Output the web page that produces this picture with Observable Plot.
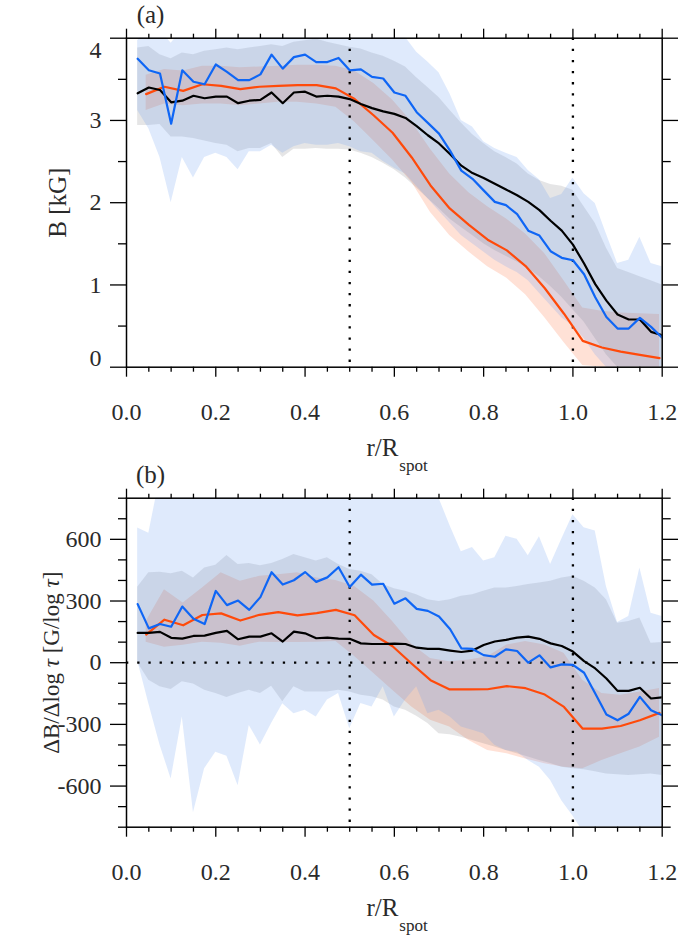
<!DOCTYPE html>
<html><head><meta charset="utf-8">
<script src="https://cdn.jsdelivr.net/npm/d3@7"></script>
<script src="https://cdn.jsdelivr.net/npm/@observablehq/plot@0.6"></script>
<style>
body{margin:0;background:#fff;}
#chart{width:678px;}
#chart svg{display:block;}
#chart svg text{font-family:"Liberation Serif","Times New Roman",serif !important;}
</style></head><body><div id="chart"></div>
<script>
// ---------- data ----------
const rGrid = [0.025,0.05,0.075,0.1,0.125,0.15,0.175,0.2,0.225,0.25,0.275,0.3,0.325,0.35,0.375,0.4,0.425,0.45,0.475,0.5,0.525,0.55,0.575,0.6,0.625,0.65,0.675,0.7,0.725,0.75,0.775,0.8,0.825,0.85,0.875,0.9,0.925,0.95,0.975,1.0,1.025,1.05,1.075,1.1,1.125,1.15,1.175,1.2];
const rOrange = [0.044,0.085,0.127,0.170,0.212,0.255,0.298,0.340,0.383,0.426,0.469,0.511,0.554,0.596,0.639,0.681,0.724,0.767,0.809,0.852,0.894,0.937,0.980,1.022,1.065,1.107,1.150,1.194];

// panel (a): B [kG]
const blueA = [3.75,3.61,3.57,2.96,3.61,3.47,3.44,3.68,3.59,3.49,3.49,3.56,3.80,3.63,3.77,3.80,3.71,3.71,3.76,3.61,3.62,3.53,3.51,3.34,3.30,3.10,2.97,2.84,2.63,2.39,2.29,2.15,2.01,1.97,1.86,1.66,1.60,1.41,1.33,1.30,1.13,0.85,0.61,0.47,0.47,0.60,0.49,0.36];
const blackA = [3.33,3.40,3.37,3.22,3.24,3.30,3.27,3.29,3.29,3.21,3.24,3.25,3.34,3.21,3.34,3.35,3.29,3.30,3.29,3.26,3.20,3.15,3.11,3.08,3.03,2.93,2.82,2.72,2.59,2.45,2.36,2.30,2.23,2.16,2.09,2.01,1.91,1.78,1.66,1.49,1.26,1.01,0.81,0.64,0.58,0.58,0.43,0.39];
const orangeA = [3.32,3.41,3.36,3.44,3.42,3.38,3.41,3.42,3.43,3.43,3.39,3.26,3.06,2.85,2.55,2.21,1.93,1.73,1.55,1.42,1.23,0.96,0.65,0.32,0.24,0.19,0.15,0.11];
const blueHiA = [3.97,4.15,4.1,3.94,4.1,4.15,4.2,4.2,4.2,4.2,4.2,4.2,4.25,4.25,4.25,4.25,4.25,4.2,4.2,4.2,4.15,4.1,4.05,4.02,4.01,3.83,3.71,3.58,3.32,3.0,2.92,2.74,2.66,2.6,2.55,2.39,2.28,2.05,2.1,2.3,2.11,1.99,1.62,1.26,1.30,1.58,1.26,1.22];
const blueLoA = [3.12,2.9,2.55,2.0,2.55,2.3,2.55,2.6,2.55,2.4,2.62,2.62,2.7,2.6,2.68,2.72,2.7,2.7,2.72,2.68,2.62,2.6,2.5,2.42,2.35,2.2,2.05,1.9,1.75,1.6,1.5,1.4,1.3,1.22,1.15,1.05,0.9,0.75,0.6,0.5,0.35,0.15,0.0,-0.1,-0.1,-0.1,-0.1,-0.1];
const greyHiA = [3.88,3.9,3.8,3.75,3.82,3.8,3.84,3.86,3.88,3.86,3.88,3.9,3.92,3.9,3.95,3.97,3.99,3.95,3.92,3.89,3.87,3.82,3.78,3.72,3.65,3.52,3.4,3.28,3.12,2.97,2.83,2.72,2.62,2.55,2.47,2.35,2.27,2.22,2.2,2.15,1.95,1.75,1.45,1.2,1.15,1.1,1.05,1.0];
const greyLoA = [2.94,2.94,2.95,2.8,2.8,2.78,2.75,2.72,2.7,2.62,2.66,2.66,2.72,2.55,2.65,2.65,2.66,2.65,2.65,2.64,2.6,2.55,2.48,2.4,2.3,2.18,2.05,1.93,1.8,1.7,1.6,1.5,1.42,1.35,1.28,1.2,1.1,0.98,0.85,0.7,0.55,0.35,0.15,0.0,-0.1,-0.1,-0.1,-0.1];
const orangeHiA = [3.55,3.62,3.6,3.66,3.66,3.64,3.65,3.66,3.67,3.67,3.66,3.6,3.45,3.25,2.98,2.65,2.35,2.12,1.95,1.8,1.62,1.38,1.05,0.72,0.68,0.66,0.65,0.64];
const orangeLoA = [3.12,3.2,3.18,3.2,3.2,3.18,3.2,3.22,3.22,3.2,3.16,2.98,2.75,2.52,2.25,1.88,1.6,1.4,1.22,1.08,0.88,0.6,0.3,0.02,0.0,0.0,0.0,0.0];

// panel (b): dB/dlog tau [G/log tau]
const blueB = [285,167,188,175,273,214,188,349,280,302,257,319,440,380,401,441,393,415,464,368,428,380,384,287,313,262,252,225,163,70,67,37,29,65,57,0,36,-23,-8,-11,-49,-150,-252,-280,-248,-166,-231,-256];
const blackB = [145,145,150,121,117,130,132,145,155,114,127,127,143,103,151,143,119,122,117,116,94,91,91,93,91,73,67,67,59,52,59,86,103,111,122,127,116,94,81,54,8,-28,-77,-137,-137,-122,-174,-169];
const orangeB = [137,209,182,232,240,205,233,246,230,241,257,231,135,80,-5,-85,-130,-130,-129,-114,-124,-155,-215,-321,-321,-308,-280,-244];
const blueHiB = [655,630,900,900,900,900,900,900,900,900,900,900,900,900,900,900,900,900,900,900,900,900,900,900,900,900,880,800,665,540,560,495,510,615,600,520,612,478,600,720,656,640,370,195,225,460,240,225];
const blueLoB = [10,-200,-400,-565,-264,-730,-516,-435,-455,-598,-305,-400,-296,-200,-248,-231,-264,-182,-150,-321,-199,-215,-117,-264,-182,-117,-248,-231,-264,-313,-329,-345,-402,-427,-435,-476,-508,-573,-671,-745,-830,-880,-880,-880,-880,-880,-880,-880];
const greyHiB = [367,437,440,433,445,412,461,474,521,477,482,472,482,502,526,510,494,510,477,453,445,428,380,360,347,331,306,298,306,323,331,347,363,363,371,380,388,396,412,420,396,363,306,192,200,217,94,98];
const greyLoB = [0,-85,-117,-130,-93,-104,-134,-150,-169,-150,-134,-150,-114,-190,-117,-142,-142,-142,-134,-142,-158,-166,-182,-215,-231,-260,-296,-345,-350,-362,-378,-394,-410,-427,-443,-459,-476,-490,-508,-516,-520,-530,-541,-545,-549,-545,-541,-549];
const orangeHiB = [200,355,290,363,437,396,420,428,437,412,400,370,300,200,90,20,5,13,29,86,103,86,46,-85,-150,-158,-142,-125];
const orangeLoB = [100,75,85,100,95,80,100,98,98,100,103,30,-52,-134,-215,-280,-313,-378,-427,-443,-468,-492,-508,-516,-476,-443,-410,-362];

// axes / reference lines
const xMajor = [0,0.2,0.4,0.6,0.8,1.0,1.2];
const xLabels = ["0.0","0.2","0.4","0.6","0.8","1.0","1.2"];
const xMinor = [0.05,0.1,0.15,0.25,0.3,0.35,0.45,0.5,0.55,0.65,0.7,0.75,0.85,0.9,0.95,1.05,1.1,1.15];
const aYMajor = [0,1,2,3,4];
const aYMinor = [0.5,1.5,2.5,3.5];
const bYMajor = [-600,-300,0,300,600];
const bYMinor = [-800,-700,-500,-400,-200,-100,100,200,400,500,700,800];
const refX = [0.5,1.0];
const refY = [0];

// ---------- drawing ----------
const FONT = "Liberation Serif, Times New Roman, serif";
const C = {blue:"#0f66f5", orange:"#ff4a0a", black:"#000"};

function rows(xs, cols){ return xs.map((r,i)=>{const o={r}; for(const k in cols) o[k]=cols[k][i]; return o;}); }

function panel({height, yDomain, yMajor, yMinor, yLabels, main, orng, tag, ytitle, titleSize, titleDx, zeroLine, clampEnds}) {
  const axisCommon = {strokeWidth:1.3, tickFormat:()=>"", stroke:"#000", label:null};
  const txt = {fontFamily:FONT, fontSize:24, fill:"#2a2a2a"};
  const marks = [
    Plot.areaY(orng, {x:"r", y1:"oLo", y2:"oHi", fill:"#ff4500", fillOpacity:0.16, clip:true}),
    Plot.areaY(main, {x:"r", y1:"gLo", y2:"gHi", fill:"#51535a", fillOpacity:0.15, clip:true}),
    Plot.areaY(main, {x:"r", y1:"bLo", y2:"bHi", fill:"#6c9ef0", fillOpacity:0.22, clip:true}),
    Plot.ruleX(refX, {stroke:"#000", strokeWidth:2.3, strokeDasharray:"2.3,8.8"}),
  ];
  if (zeroLine) marks.push(Plot.ruleY(refY, {stroke:"#000", strokeWidth:2.3, strokeDasharray:"2.3,8.9"}));
  marks.push(
    Plot.lineY(orng, {x:"r", y:"o", stroke:C.orange, strokeWidth:2.2, clip:true}),
    Plot.lineY(main, {x:"r", y:"k", stroke:C.black, strokeWidth:2.2, clip:true}),
    Plot.lineY(main, {x:"r", y:"b", stroke:C.blue, strokeWidth:2.2, clip:true}),
    Plot.frame({stroke:"#000", strokeWidth:1.5}),
    Plot.axisX({anchor:"bottom", ticks:xMajor, tickSize:10, ...axisCommon}),
    Plot.axisX({anchor:"bottom", ticks:xMinor, tickSize:5, ...axisCommon}),
    Plot.axisX({anchor:"top", ticks:xMajor, tickSize:10, ...axisCommon}),
    Plot.axisX({anchor:"top", ticks:xMinor, tickSize:5, ...axisCommon}),
    Plot.axisY({anchor:"left", ticks:yMajor, tickSize:16, ...axisCommon}),
    Plot.axisY({anchor:"left", ticks:yMinor, tickSize:8, ...axisCommon}),
    Plot.axisY({anchor:"right", ticks:yMajor, tickSize:16, ...axisCommon}),
    Plot.axisY({anchor:"right", ticks:yMinor, tickSize:8, ...axisCommon}),
    Plot.text(xMajor, {x:d=>d, text:(d,i)=>xLabels[i], frameAnchor:"bottom", dy:45, lineAnchor:"middle", ...txt}),
    Plot.text(["r/R"], {frameAnchor:"bottom", dx:4, dy:81, textAnchor:"end", lineAnchor:"middle", ...txt, fontSize:25}),
    Plot.text(["spot"], {frameAnchor:"bottom", dx:5, dy:98, textAnchor:"start", lineAnchor:"middle", ...txt, fontSize:17}),
    Plot.text([tag], {frameAnchor:"top-left", dx:24, dy:-23, textAnchor:"middle", lineAnchor:"middle", ...txt, fontSize:25}),
    Plot.text([ytitle], {frameAnchor:"left", dx:titleDx, rotate:-90, textAnchor:"middle", lineAnchor:"middle", ...txt, fontSize:titleSize})
  );
  if (clampEnds) {
    const mid = yMajor.slice(1,-1);
    marks.push(
      Plot.text(mid, {y:d=>d, text:(d,i)=>yLabels[i+1], frameAnchor:"left", dx:-25, textAnchor:"end", lineAnchor:"middle", ...txt}),
      Plot.text([yMajor[yMajor.length-1]], {y:d=>d, text:()=>yLabels[yLabels.length-1], frameAnchor:"left", dx:-25, dy:12, textAnchor:"end", lineAnchor:"middle", ...txt}),
      Plot.text([yMajor[0]], {y:d=>d, text:()=>yLabels[0], frameAnchor:"left", dx:-25, dy:-9, textAnchor:"end", lineAnchor:"middle", ...txt})
    );
  } else {
    marks.push(Plot.text(yMajor, {y:d=>d, text:(d,i)=>yLabels[i], frameAnchor:"left", dx:-25, textAnchor:"end", lineAnchor:"middle", ...txt}));
  }
  return Plot.plot({
    width:678, height,
    marginLeft:126, marginRight:16.3, marginTop:37.7, marginBottom:height-366.7,
    x:{domain:[0,1.2], label:null},
    y:{domain:yDomain, label:null},
    style:{fontFamily:FONT, background:"white", overflow:"visible"},
    marks
  });
}

const mainA = rows(rGrid, {b:blueA, k:blackA, bHi:blueHiA, bLo:blueLoA, gHi:greyHiA, gLo:greyLoA});
const orngA = rows(rOrange, {o:orangeA, oHi:orangeHiA, oLo:orangeLoA});
const mainB = rows(rGrid, {b:blueB, k:blackB, bHi:blueHiB, bLo:blueLoB, gHi:greyHiB, gLo:greyLoB});
const orngB = rows(rOrange, {o:orangeB, oHi:orangeHiB, oLo:orangeLoB});

const svgA = panel({height:460, yDomain:[0,4], yMajor:aYMajor, yMinor:aYMinor, yLabels:["0","1","2","3","4"],
  main:mainA, orng:orngA, tag:"(a)", ytitle:"B [kG]", titleSize:25, titleDx:-69, zeroLine:false, clampEnds:true});
const svgB = panel({height:475, yDomain:[-800,800], yMajor:bYMajor, yMinor:bYMinor, yLabels:["-600","-300","0","300","600"],
  main:mainB, orng:orngB, tag:"(b)", ytitle:"ΔB/Δlog τ [G/log τ]", titleSize:23, titleDx:-75, zeroLine:true, clampEnds:false});

const host = document.getElementById("chart");
host.appendChild(svgA);
host.appendChild(svgB);

// italic tau
svgB.querySelectorAll("text").forEach(t => {
  if (t.children.length === 0 && t.textContent.includes("τ")) {
    const s = t.textContent; t.textContent = "";
    s.split(/(τ)/).forEach(part => {
      if (!part) return;
      const ts = document.createElementNS("http://www.w3.org/2000/svg","tspan");
      ts.textContent = part;
      if (part === "τ") ts.setAttribute("font-style","italic");
      t.appendChild(ts);
    });
  }
});
</script></body></html>
